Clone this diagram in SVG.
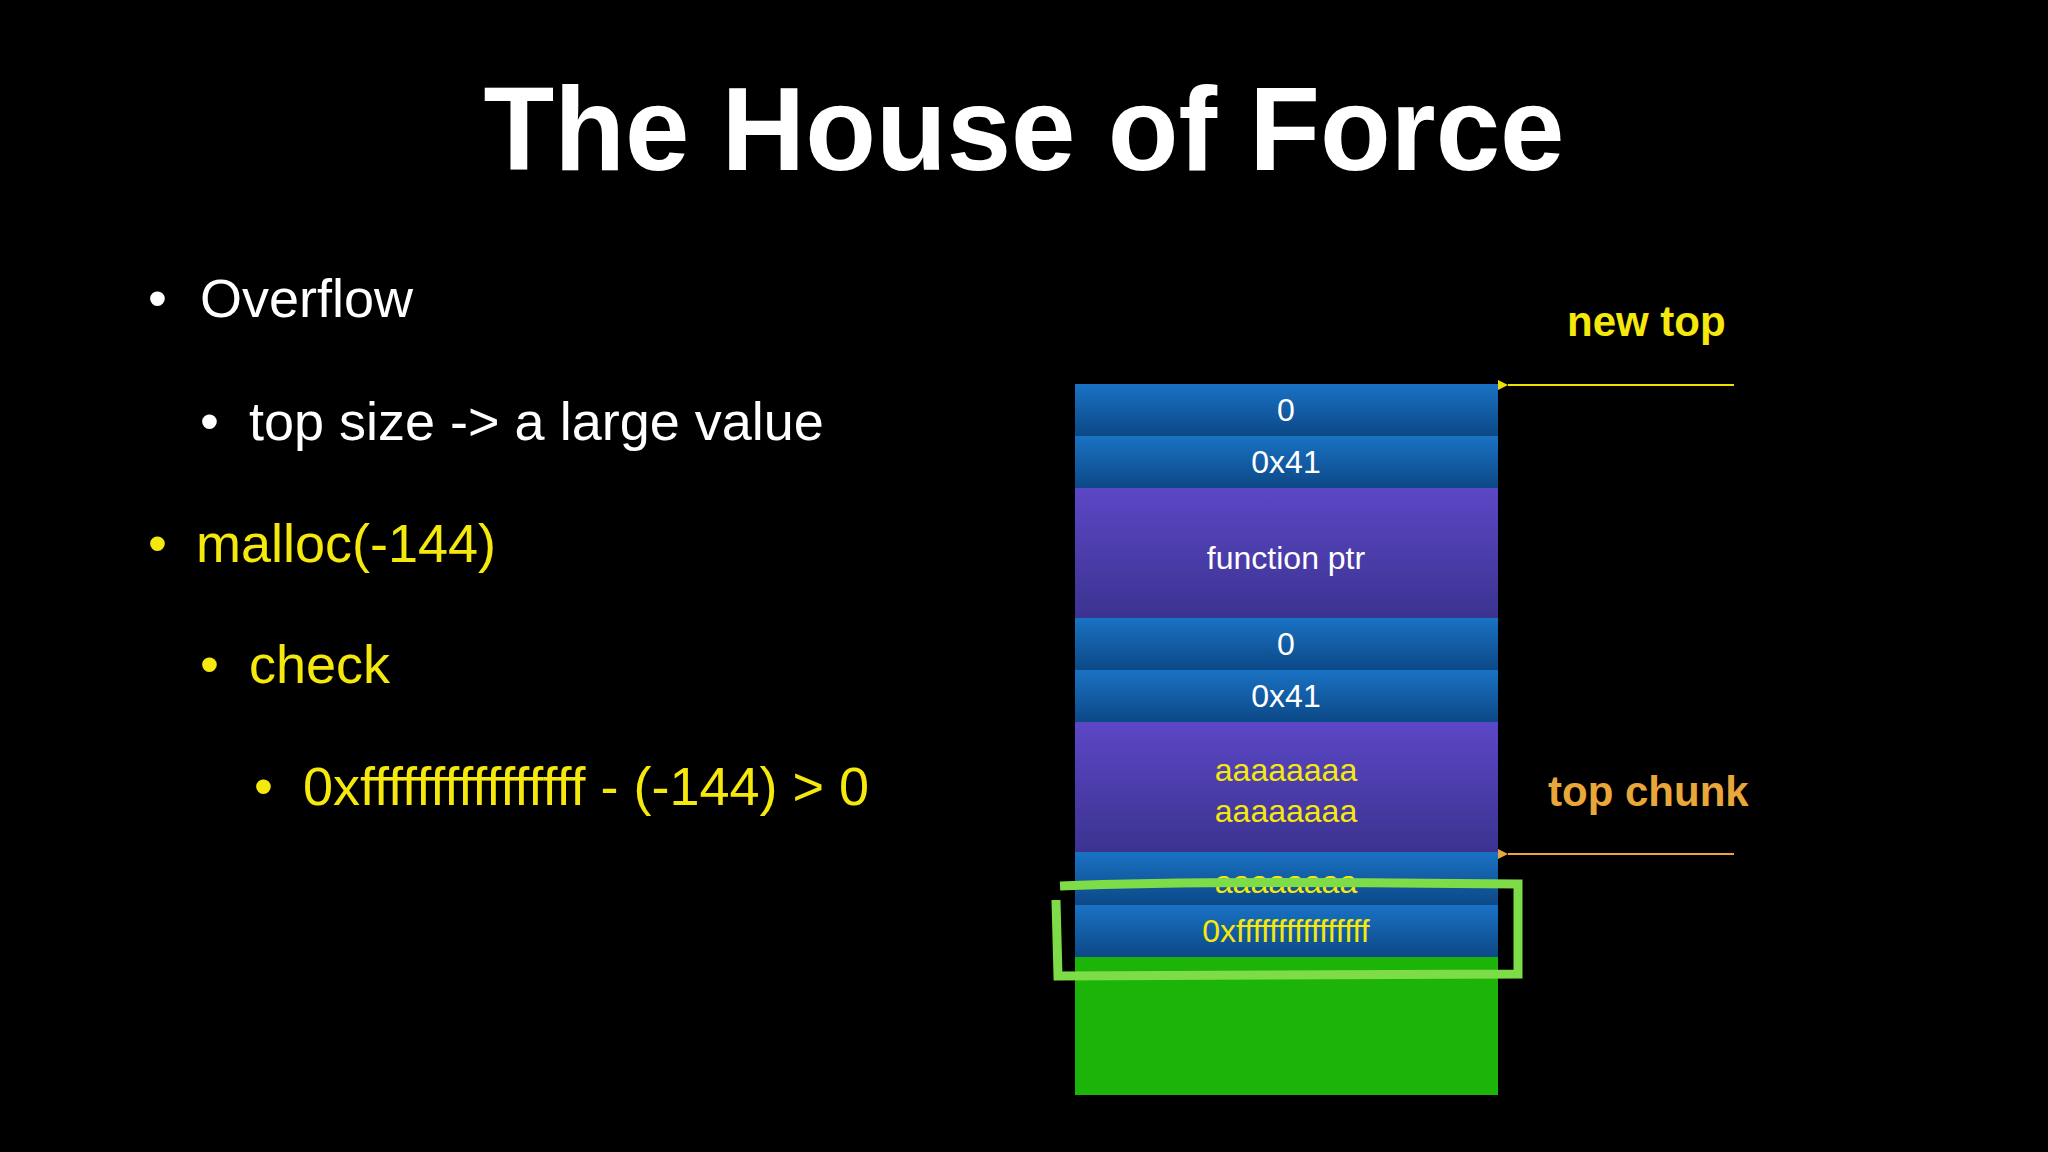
<svg xmlns="http://www.w3.org/2000/svg" width="2048" height="1152" viewBox="0 0 2048 1152">
<defs>
<linearGradient id="gb" x1="0" y1="0" x2="0" y2="1"><stop offset="0" stop-color="#1a72c4"/><stop offset="1" stop-color="#0c4886"/></linearGradient>
<linearGradient id="gp" x1="0" y1="0" x2="0" y2="1"><stop offset="0" stop-color="#5c47c6"/><stop offset="1" stop-color="#3b3390"/></linearGradient>
<marker id="ay" viewBox="0 0 10 10" refX="0" refY="5" markerWidth="10" markerHeight="10" markerUnits="userSpaceOnUse" orient="auto"><path d="M10,0 L0,5 L10,10 z" fill="#f0e000"/></marker>
<marker id="ao" viewBox="0 0 10 10" refX="0" refY="5" markerWidth="10" markerHeight="10" markerUnits="userSpaceOnUse" orient="auto"><path d="M10,0 L0,5 L10,10 z" fill="#e9a73a"/></marker>
</defs>
<style>
text{font-family:"Liberation Sans",Arial,sans-serif}
.b{font-size:54px}
.w{fill:#ffffff}.y{fill:#f5e80c}
.c{font-size:32px;text-anchor:middle;dominant-baseline:central}
</style>
<rect width="2048" height="1152" fill="#000"/>
<text x="1024" y="170" font-size="118" text-anchor="middle" fill="#fff" font-weight="bold" textLength="1081" lengthAdjust="spacingAndGlyphs">The House of Force</text>
<g id="bullets">
<text class="b w" x="148" y="317">•</text><text class="b w" x="200" y="317">Overflow</text>
<text class="b w" x="200" y="440">•</text><text class="b w" x="249" y="440">top size -&gt; a large value</text>
<text class="b y" x="148" y="562">•</text><text class="b y" x="196" y="562">malloc(-144)</text>
<text class="b y" x="200" y="683">•</text><text class="b y" x="249" y="683">check</text>
<text class="b y" x="254" y="805">•</text><text class="b y" x="303" y="805">0xffffffffffffffff - (-144) &gt; 0</text>
</g>
<g id="stack">
<rect x="1075" y="384" width="423" height="52" fill="url(#gb)"/>
<rect x="1075" y="436" width="423" height="52" fill="url(#gb)"/>
<rect x="1075" y="488" width="423" height="130" fill="url(#gp)"/>
<rect x="1075" y="618" width="423" height="52" fill="url(#gb)"/>
<rect x="1075" y="670" width="423" height="52" fill="url(#gb)"/>
<rect x="1075" y="722" width="423" height="130" fill="url(#gp)"/>
<rect x="1075" y="852" width="423" height="53" fill="url(#gb)"/>
<rect x="1075" y="905" width="423" height="52" fill="url(#gb)"/>
<rect x="1075" y="957" width="423" height="138" fill="#1db40a"/>
<text class="c w" x="1286" y="410">0</text>
<text class="c w" x="1286" y="462">0x41</text>
<text class="c w" x="1286" y="558">function ptr</text>
<text class="c w" x="1286" y="644">0</text>
<text class="c w" x="1286" y="696">0x41</text>
<text class="c y" x="1286" y="770">aaaaaaaa</text>
<text class="c y" x="1286" y="811">aaaaaaaa</text>
<text class="c y" x="1286" y="882">aaaaaaaa</text>
<text class="c y" x="1286" y="931">0xffffffffffffffff</text>
</g>
<g id="highlight" fill="none" stroke="#7edc48" stroke-width="9">
<path d="M1060,886 Q1200,880 1518,884 L1518,974 L1058,976 L1056,900"/>
</g>
<g id="labels">
<text x="1567" y="336" font-size="42" font-weight="bold" fill="#f5e80c">new top</text>
<text x="1548" y="806" font-size="42" font-weight="bold" fill="#e9a73a">top chunk</text>
</g>
<g id="connectors">
<line x1="1734" y1="385" x2="1508" y2="385" stroke="#f0e000" stroke-width="2" marker-end="url(#ay)"/>
<line x1="1734" y1="854" x2="1508" y2="854" stroke="#e9a73a" stroke-width="2" marker-end="url(#ao)"/>
</g>
</svg>
